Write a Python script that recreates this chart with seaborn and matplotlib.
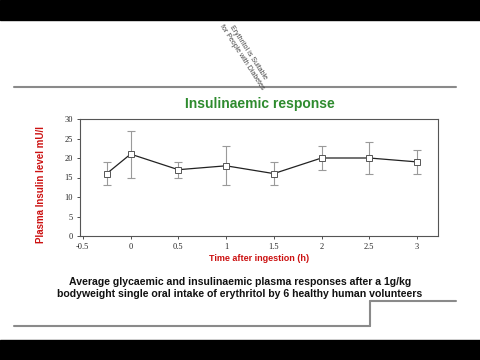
import matplotlib
matplotlib.use("Agg")
import matplotlib.pyplot as plt
import seaborn as sns
import pandas as pd
from matplotlib.patches import Rectangle
from matplotlib.lines import Line2D

# data
time_h = [-0.25, 0, 0.5, 1, 1.5, 2, 2.5, 3]
insulin = [16, 21, 17, 18, 16, 20, 20, 19]
err_low = [13, 15, 15, 13, 13, 17, 16, 16]
err_high = [19, 27, 19, 23, 19, 23, 24, 22]
x_ticks = [-0.5, 0, 0.5, 1, 1.5, 2, 2.5, 3]
x_tick_labels = ["-0.5", "0", "0.5", "1", "1.5", "2", "2.5", "3"]
y_ticks = [0, 5, 10, 15, 20, 25, 30]

df = pd.DataFrame({"time": time_h, "insulin": insulin})

sns.set_style("white")
plt.rcParams["font.family"] = ["Liberation Sans", "DejaVu Sans"]

fig = plt.figure(figsize=(4.8, 3.6), dpi=100)
fig.patch.set_facecolor("white")

# black letterbox bars
fig.add_artist(Rectangle((0, 1 - 20 / 360), 1, 20 / 360, transform=fig.transFigure, color="black"))
fig.add_artist(Rectangle((0, 0), 1, 20 / 360, transform=fig.transFigure, color="black"))

# slide decoration lines
gray = "#8a8a8a"
def px(x, y):
    return x / 480, 1 - y / 360
for (x0, y0), (x1, y1) in [((14, 87), (456, 87)), ((14, 326), (370, 326)),
                           ((370, 326), (370, 301)), ((370, 301), (456, 301))]:
    a, b = px(x0, y0), px(x1, y1)
    fig.add_artist(Line2D([a[0], b[0]], [a[1], b[1]], transform=fig.transFigure, color=gray, lw=1.5))

# rotated note
fig.text(*px(245, 55), "Erythritol is Suitable\nfor People with Diabetes", rotation=-57,
         ha="center", va="center", fontsize=5, color="#444444", rotation_mode="anchor")

ax = fig.add_axes([80 / 480, 1 - 236 / 360, 358 / 480, 117 / 360])
ax.errorbar(time_h, insulin,
            yerr=[[m - lo for m, lo in zip(insulin, err_low)], [hi - m for m, hi in zip(insulin, err_high)]],
            fmt="none", ecolor="#9a9a9a", elinewidth=0.8, capsize=3, capthick=0.8, zorder=2)
sns.lineplot(data=df, x="time", y="insulin", ax=ax, color="#222222", lw=0.9,
             marker="s", markersize=4, markerfacecolor="white", markeredgecolor="#555555",
             markeredgewidth=0.7, zorder=3)

ax.set_xlim(-0.53, 3.22)
ax.set_ylim(0, 30)
ax.set_xticks(x_ticks)
ax.set_xticklabels(x_tick_labels, family="Liberation Serif", fontsize=6)
ax.set_yticks(y_ticks)
ax.set_yticklabels([str(v) for v in y_ticks], family="Liberation Serif", fontsize=6)
ax.tick_params(axis="both", length=2, width=0.6, color="#333333", pad=3, direction="out",
               bottom=True, left=True)
for s in ax.spines.values():
    s.set_color("#555555")
    s.set_linewidth(0.8)

ax.set_xlabel("Time after ingestion (h)", color="#cc1111", fontsize=6.5, fontweight="bold", labelpad=2)
ax.set_ylabel("Plasma Insulin level mU/l", color="#cc1111", fontsize=7, fontweight="bold")
ax.yaxis.set_label_coords(-0.095, 0.44)

fig.text(*px(260, 104), "Insulinaemic response", color="#2e8b2e", fontsize=10,
         fontweight="bold", ha="center", va="center")
fig.text(*px(240, 288), "Average glycaemic and insulinaemic plasma responses after a 1g/kg\n"
         "bodyweight single oral intake of erythritol by 6 healthy human volunteers",
         ha="center", va="center", fontsize=7.6, fontweight="bold", color="#111111", linespacing=1.15)

fig.savefig("out.png", dpi=100)
